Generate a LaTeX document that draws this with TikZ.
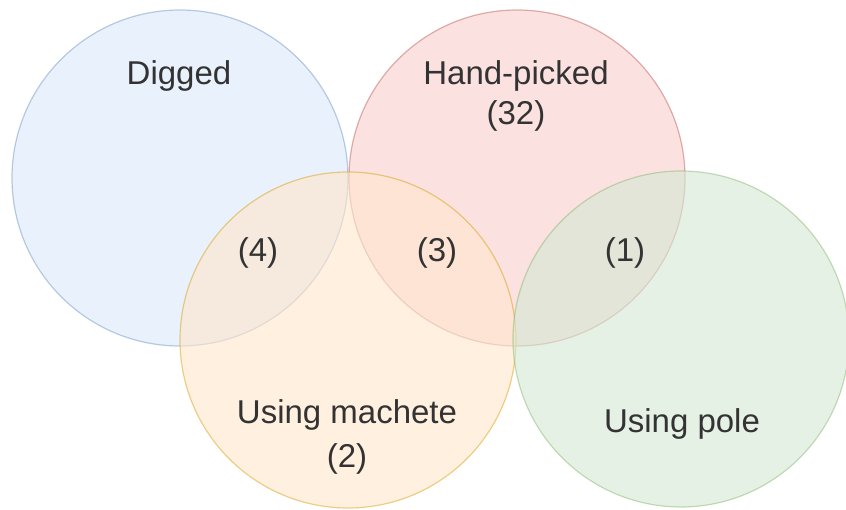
\documentclass[tikz,border=0pt]{standalone}
\usepackage{fontspec}
\setmainfont{Liberation Sans}
\begin{document}
\begin{tikzpicture}[x=1pt,y=-1pt,
  venn/.style={circle,minimum size=336pt,inner sep=0pt,line width=1.2pt,fill opacity=0.6,draw opacity=0.45},
  lbl/.style={text=black!80,font=\fontsize{33}{40}\selectfont,align=center,anchor=base}]
\useasboundingbox (0,0) rectangle (846,510);
\node[venn,fill={rgb,255:red,218;green,232;blue,252},draw={rgb,255:red,108;green,142;blue,191}] (dig) at (180,178) {};
\node[venn,fill={rgb,255:red,248;green,206;blue,204},draw={rgb,255:red,184;green,84;blue,80}] (hand) at (517,178) {};
\node[venn,fill={rgb,255:red,255;green,230;blue,204},draw={rgb,255:red,215;green,155;blue,0}] (mach) at (348,340) {};
\node[venn,fill={rgb,255:red,213;green,232;blue,212},draw={rgb,255:red,130;green,179;blue,102}] (pole) at (681,339) {};
\node[lbl] (tdig) at (179,85) {Digged};
\node[lbl] (thand) at (516,125) {Hand-picked\\(32)};
\node[lbl] (tmach) at (347,467) {Using machete\\[4pt](2)};
\node[lbl] (tpole) at (682,432) {Using pole};
\node[lbl] (t4) at (258,262) {(4)};
\node[lbl] (t3) at (437,262) {(3)};
\node[lbl] (t1) at (625,262) {(1)};
\end{tikzpicture}
\end{document}
